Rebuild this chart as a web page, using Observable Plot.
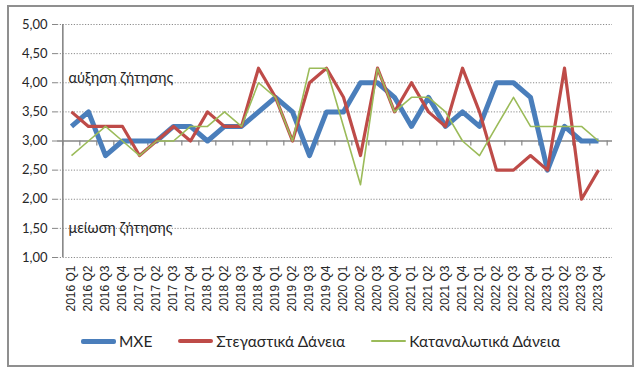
<!DOCTYPE html>
<html><head><meta charset="utf-8">
<script src="https://cdn.jsdelivr.net/npm/d3@7"></script>
<script src="https://cdn.jsdelivr.net/npm/@observablehq/plot@0.6"></script>
<style>
html,body{margin:0;padding:0;background:#fff;}
body{width:643px;height:377px;position:relative;overflow:hidden;font-family:Lato,"Open Sans",sans-serif;}
#frame{position:absolute;left:7px;top:5px;width:627px;height:362px;border:2px solid #8f8f8f;box-sizing:border-box;}
#chart{position:absolute;left:0;top:0;}
#legend{position:absolute;left:0;top:331px;width:641px;height:20px;display:flex;justify-content:center;align-items:center;font-size:15.5px;color:#262626;}
.item{display:flex;align-items:center;margin:0 13px;}
.swatch{width:35px;margin-right:3px;border-radius:2px;}
</style>
</head><body>
<div id="frame"></div>
<div id="chart"></div>
<div id="legend"></div>
<script>
const quarters = [
  "2016 Q1","2016 Q2","2016 Q3","2016 Q4",
  "2017 Q1","2017 Q2","2017 Q3","2017 Q4",
  "2018 Q1","2018 Q2","2018 Q3","2018 Q4",
  "2019 Q1","2019 Q2","2019 Q3","2019 Q4",
  "2020 Q1","2020 Q2","2020 Q3","2020 Q4",
  "2021 Q1","2021 Q2","2021 Q3","2021 Q4",
  "2022 Q1","2022 Q2","2022 Q3","2022 Q4",
  "2023 Q1","2023 Q2","2023 Q3","2023 Q4"
];
const mxe = [
  3.25,3.50,2.75,3.00,
  3.00,3.00,3.25,3.25,
  3.00,3.25,3.25,3.50,
  3.75,3.50,2.75,3.50,
  3.50,4.00,4.00,3.75,
  3.25,3.75,3.25,3.50,
  3.25,4.00,4.00,3.75,
  2.50,3.25,3.00,3.00
];
const housing = [
  3.50,3.25,3.25,3.25,
  2.75,3.00,3.25,3.00,
  3.50,3.25,3.25,4.25,
  3.75,3.00,4.00,4.25,
  3.75,2.75,4.25,3.50,
  4.00,3.50,3.25,4.25,
  3.50,2.50,2.50,2.75,
  2.50,4.25,2.00,2.50
];
const consumer = [
  2.75,3.00,3.25,3.00,
  2.75,3.00,3.00,3.25,
  3.25,3.50,3.25,4.00,
  3.75,3.00,4.25,4.25,
  3.25,2.25,4.25,3.50,
  3.75,3.75,3.50,3.00,
  2.75,3.25,3.75,3.25,
  3.25,3.25,3.25,3.00
];
const seriesNames = ["ΜΧΕ","Στεγαστικά Δάνεια","Καταναλωτικά Δάνεια"];
const yTicks = [1,1.5,2,2.5,3,3.5,4,4.5,5];
const annotationLabels = ["αύξηση ζήτησης","μείωση ζήτησης"];
const annotationLevels = [4.0,1.5];

const colors = ["#4A7EBB","#BE4B48","#9BBB59"];
const widths = [5,3.2,1.6];

const W = 643, H = 325, mL = 57, mR = 31, mT = 24, mB = 68;
const step = (W - mL - mR) / quarters.length;
const values = [mxe, housing, consumer];
const rows = [];
seriesNames.forEach((s, k) => quarters.forEach((q, i) => rows.push({series: s, q, v: values[k][i]})));
const fmt = d => d.toFixed(2).replace(".", ",");
const grid = "#8c8c8c";

const chart = Plot.plot({
  width: W, height: H,
  marginLeft: mL, marginRight: mR, marginTop: mT, marginBottom: mB,
  style: {fontFamily: "Lato, sans-serif", background: "transparent", overflow: "visible"},
  x: {type: "point", domain: quarters, padding: 0.5, label: null},
  y: {domain: [1, 5], label: null},
  marks: [
    Plot.ruleY(yTicks.filter(v => v !== 3), {stroke: grid, strokeWidth: 1, strokeDasharray: "1.2,1.6"}),
    Plot.ruleY([3], {stroke: "#868686", strokeWidth: 1.6}),
    Plot.ruleX(quarters, {x: d => d, y1: 3, y2: 3, dx: -step / 2, insetBottom: -5, stroke: "#868686", strokeWidth: 1.2}),
    Plot.ruleX([quarters[quarters.length - 1]], {x: d => d, y1: 3, y2: 3, dx: step / 2, insetBottom: -5, stroke: "#868686", strokeWidth: 1.2}),
    Plot.ruleX([quarters[0]], {x: d => d, dx: -step / 2, stroke: "#868686", strokeWidth: 1.6}),
    Plot.axisY({ticks: yTicks, tickSize: 5, tickPadding: 5, tickFormat: fmt, fontSize: 13, stroke: "#868686", fill: "#262626", label: null}),
    Plot.axisX({tickRotate: -90, tickSize: 0, tickPadding: 8, fontSize: 12, fontFamily: "Liberation Sans, Arial, sans-serif", fill: "#262626", label: null}),
    ...seriesNames.map((s, k) => Plot.line(rows.filter(r => r.series === s), {
      x: "q", y: "v", stroke: colors[k], strokeWidth: widths[k], strokeLinejoin: "round", strokeLinecap: "butt"
    })),
    Plot.text([annotationLabels[0]], {x: () => quarters[0], y: () => annotationLevels[0], text: d => d, textAnchor: "start", lineAnchor: "bottom", dx: -3, fontSize: 14.5, fill: "#262626"}),
    Plot.text([annotationLabels[1]], {x: () => quarters[0], y: () => annotationLevels[1], text: d => d, textAnchor: "start", lineAnchor: "middle", dx: -3, fontSize: 14.5, fill: "#262626"})
  ]
});
document.getElementById("chart").appendChild(chart);

const legend = document.getElementById("legend");
seriesNames.forEach((s, k) => {
  const item = document.createElement("div");
  item.className = "item";
  const sw = document.createElement("span");
  sw.className = "swatch";
  sw.style.height = widths[k] + "px";
  sw.style.background = colors[k];
  const t = document.createElement("span");
  t.textContent = s;
  item.appendChild(sw); item.appendChild(t);
  legend.appendChild(item);
});
</script>
</body></html>
